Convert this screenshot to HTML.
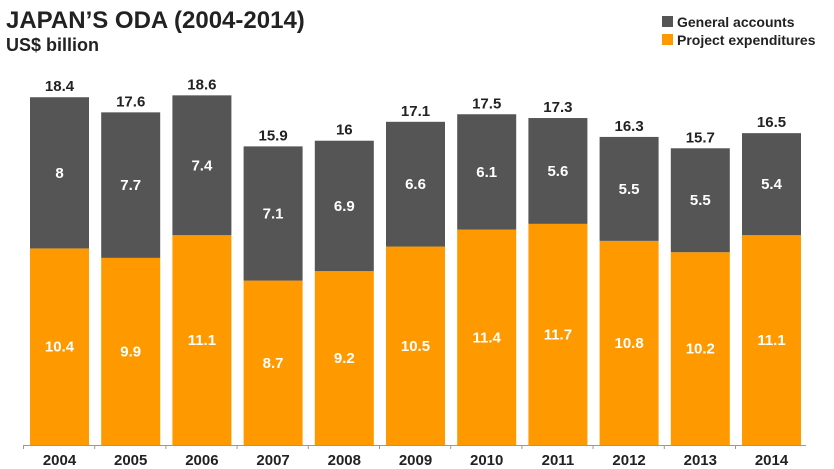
<!DOCTYPE html>
<html><head><meta charset="utf-8"><style>
body{margin:0;background:#fff;font-family:"Liberation Sans Narrow","Liberation Sans",sans-serif;}
svg{display:block}
text{font-family:"Liberation Sans Narrow","Liberation Sans",sans-serif;font-weight:bold}
</style></head><body>
<svg id="chart" width="834" height="469">
<text x="6" y="28" font-size="24" fill="#222">JAPAN’S ODA (2004-2014)</text>
<text x="6" y="51" font-size="18" fill="#222">US$ billion</text>
<rect x="662" y="16" width="11" height="11" fill="#555"/>
<text x="677" y="27" font-size="14" fill="#222">General accounts</text>
<rect x="662" y="34" width="11" height="11" fill="#f90"/>
<text x="677" y="45" font-size="14" fill="#222">Project expenditures</text>
<line x1="23" y1="445.5" x2="806" y2="445.5" stroke="#999"/>
<g id="bars"></g>
</svg>
<script>
const years=["2004","2005","2006","2007","2008","2009","2010","2011","2012","2013","2014"];
const project=[10.4,9.9,11.1,8.7,9.2,10.5,11.4,11.7,10.8,10.2,11.1];
const general=[8,7.7,7.4,7.1,6.9,6.6,6.1,5.6,5.5,5.5,5.4];
const totals=["18.4","17.6","18.6","15.9","16","17.1","17.5","17.3","16.3","15.7","16.5"];
const NS="http://www.w3.org/2000/svg";
const g=document.getElementById('bars');
const base=445, k=18.9, x0=23, step=71.2, bw=59;
const y=v=>base-v*k;
function mk(t,a){const e=document.createElementNS(NS,t);for(const n in a)e.setAttribute(n,a[n]);g.appendChild(e);return e;}
years.forEach((yr,i)=>{
  const x=x0+i*step+7, cx=x+bw/2;
  const p=project[i], gn=general[i];
  const r1=mk('rect',{x:x,y:y(p),width:bw,height:p*k,fill:'#f90'});
  
  
  const r2=mk('rect',{x:x,y:y(p+gn),width:bw,height:gn*k,fill:'#555'});
  
  
  const t1=mk('text',{x:cx,y:(y(p)+base)/2+5,'font-size':15,fill:'#fff','text-anchor':'middle'});
  t1.textContent=String(p);
  
  
  const t2=mk('text',{x:cx,y:(y(p)+y(p+gn))/2+5,'font-size':15,fill:'#fff','text-anchor':'middle'});
  t2.textContent=String(gn);
  
  
  const t3=mk('text',{x:cx,y:y(p+gn)-6,'font-size':15,fill:'#222','text-anchor':'middle'});
  t3.textContent=totals[i];
  
  
  const t4=mk('text',{x:cx,y:465,'font-size':15,fill:'#222','text-anchor':'middle'});
  t4.textContent=yr;
  
  
  const tk=mk('line',{x1:x0+i*step+0.5,y1:445,x2:x0+i*step+0.5,y2:449,stroke:'#999'});
  
  
});
</script>
</body></html>
